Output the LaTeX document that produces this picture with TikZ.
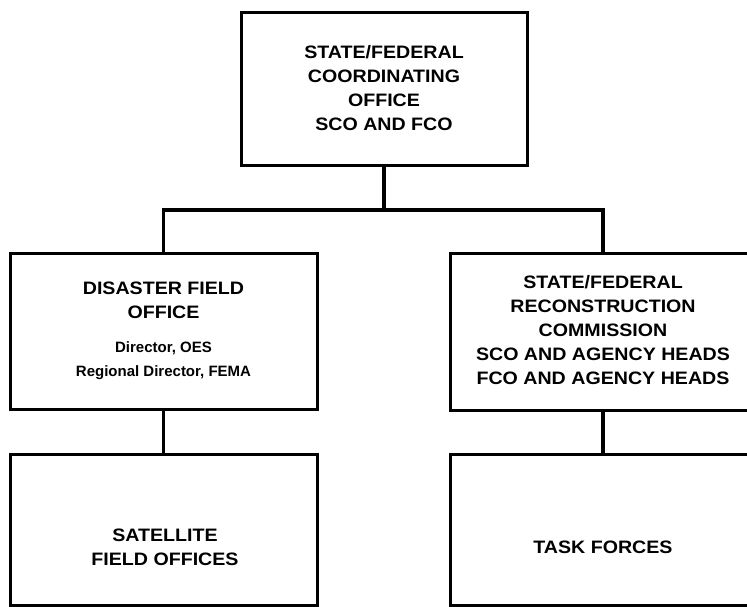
\documentclass[tikz,border=0pt]{standalone}
\usepackage{fontspec}
\newfontfamily\chartfont{Liberation Sans}[FakeStretch=1.09]
\newfontfamily\namefont{Liberation Sans}
\begin{document}
\begin{tikzpicture}[x=1pt,y=-1pt,
  orgbox/.style={draw=black, line width=3pt, fill=none, inner sep=0pt},
  conn/.style={draw=black, line width=3.5pt, line join=miter},
  boxtext/.style={align=center, inner sep=0pt, font=\chartfont\bfseries\fontsize{18}{24}\selectfont},
  nametext/.style={font=\namefont\bfseries\fontsize{15}{25}\selectfont}
]
\useasboundingbox (0,0) rectangle (747,606);
\clip (0,0) rectangle (747,606);

% coordinating office at the top
\node[orgbox, minimum width=286pt, minimum height=153pt] (sfco) at (384,88.5) {};
\node[boxtext] (sfcotext) at (384,88.5)
  {STATE/FEDERAL\\COORDINATING\\OFFICE\\SCO AND FCO};

% second level
\node[orgbox, minimum width=307pt, minimum height=156pt] (dfo) at (163.5,331) {};
\node[boxtext] (dfotext) at (163.5,330.5)
  {DISASTER FIELD\\OFFICE\\[10pt]{\namefont\fontsize{15}{25}\selectfont Director, OES}\\
   {\namefont\fontsize{15}{25}\selectfont Regional Director, FEMA}};

\node[orgbox, minimum width=306pt, minimum height=157pt] (rc) at (603,331.5) {};
\node[boxtext] (rctext) at (603,330.5)
  {STATE/FEDERAL\\RECONSTRUCTION\\COMMISSION\\SCO AND AGENCY HEADS\\FCO AND AGENCY HEADS};

% third level
\node[orgbox, minimum width=307pt, minimum height=151pt] (sfo) at (163.5,529.5) {};
\node[boxtext] (sfotext) at (165,547) {SATELLITE\\FIELD OFFICES};

\node[orgbox, minimum width=306pt, minimum height=151pt] (tf) at (603,529.5) {};
\node[boxtext] (tftext) at (603,547.5) {TASK FORCES};

% connectors
\coordinate (bus) at (384,210);
\draw[conn] (sfco.south) -- (bus);
\draw[conn] (dfo.north) |- (bus) -| (rc.north);
\draw[conn] (dfo.south) -- (sfo.north);
\draw[conn] (rc.south) -- (tf.north);
\end{tikzpicture}
\end{document}
